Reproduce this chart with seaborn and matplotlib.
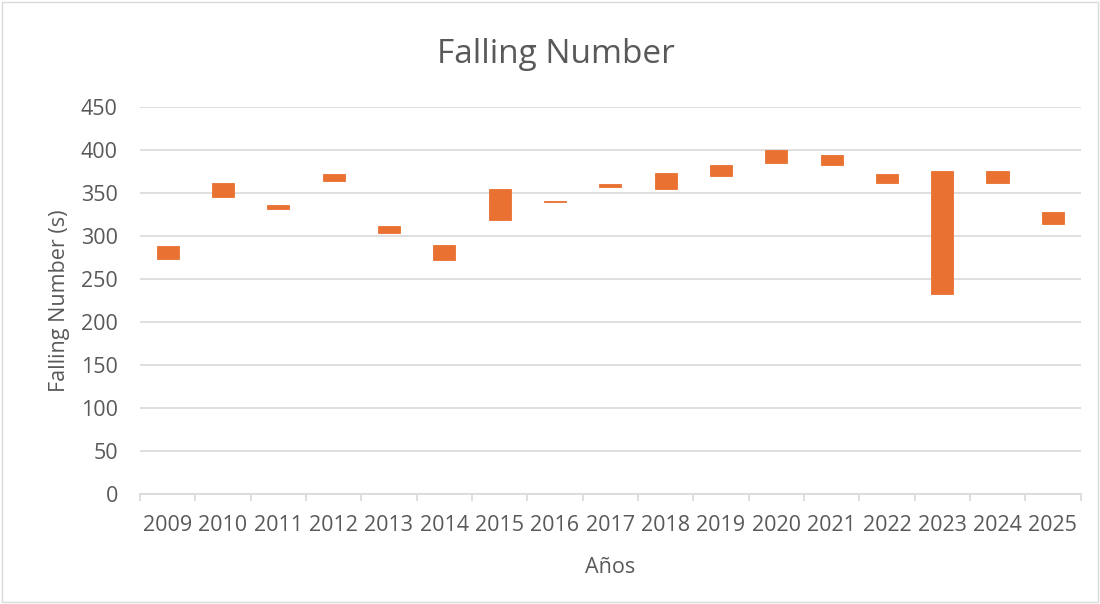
import matplotlib
matplotlib.use("Agg")
import matplotlib.pyplot as plt
import seaborn as sns
import numpy as np
import pandas as pd

years = ["2009", "2010", "2011", "2012", "2013", "2014", "2015", "2016", "2017",
         "2018", "2019", "2020", "2021", "2022", "2023", "2024", "2025"]
fn_min = [273, 345, 331, 364, 303, 272, 318, 340, 357, 355, 370, 385, 383, 361, 233, 361, 314]
fn_max = [288, 362, 336, 372, 312, 289, 355, 341, 360, 373, 383, 400, 394, 372, 376, 375, 328]

df = pd.DataFrame({"year": years, "lo": fn_min, "hi": fn_max})
df["span"] = df["hi"] - df["lo"]

sns.set_theme(style="white")
plt.rcParams["font.family"] = ["Open Sans", "DejaVu Sans"]

grey = "#595959"
orange = "#E97132"
fig = plt.figure(figsize=(11, 6.04), dpi=100)
ax = fig.add_axes([0.1273, 0.182, 0.855, 0.641])

sns.barplot(data=df, x="year", y="span", bottom=df["lo"].values, color=orange,
            width=0.4, saturation=1, ax=ax, errorbar=None, zorder=3,
            edgecolor=orange, linewidth=0.6)

ax.set_ylim(0, 450)
ax.set_yticks(np.arange(0, 451, 50))
ax.set_xlim(-0.5, len(years) - 0.5)
ax.yaxis.grid(True, color="#D9D9D9", linewidth=1.2, zorder=0)
ax.set_axisbelow(True)
for s in ["top", "right", "left"]:
    ax.spines[s].set_visible(False)
ax.spines["bottom"].set_color("#D9D9D9")
ax.spines["bottom"].set_linewidth(1.2)

ax.set_xticks(np.arange(-0.5, len(years), 1.0), minor=True)
ax.tick_params(axis="x", which="minor", length=5, color="#D9D9D9", width=1.2, bottom=True)
ax.tick_params(axis="x", which="major", length=0, labelsize=15.5, labelcolor=grey, pad=15)
ax.tick_params(axis="y", length=0, labelsize=15.5, labelcolor=grey, pad=16)

fig.text(0.505, 0.91, "Falling Number", fontsize=24, color=grey, ha="center", va="center")
ax.set_xlabel("Años", fontsize=15.5, color=grey, labelpad=15)
ax.set_ylabel("Falling Number (s)", fontsize=15.5, color=grey, labelpad=8)

fig.patches.append(plt.Rectangle((0.002, 0.003), 0.996, 0.994, transform=fig.transFigure,
                                 fill=False, edgecolor="#D9D9D9", linewidth=1))

fig.savefig("out.png", dpi=100, facecolor="white")
